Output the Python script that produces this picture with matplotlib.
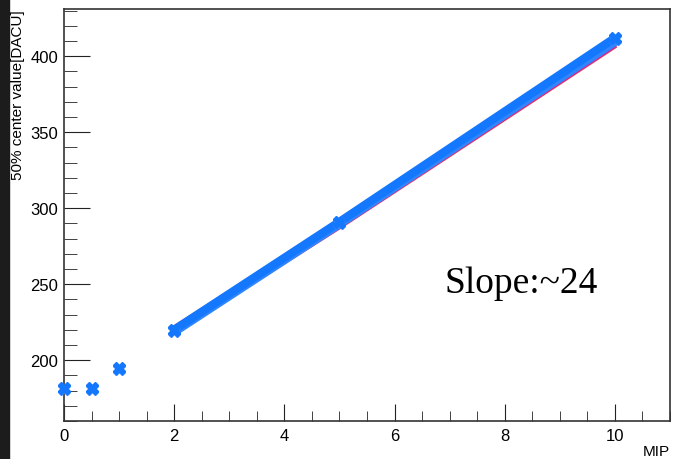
import matplotlib.pyplot as plt
from matplotlib.patches import Rectangle
from matplotlib.ticker import MultipleLocator

# measured points (one marker set, several overlapping channels)
mip = [0, 0.5, 1, 2, 5, 10]
center_blue = [182, 182, 195, 220, 291, 412]
center_cyan = [181, 181, 194, 219, 290, 411]

# linear fits drawn from 2 MIP up
fit_x = [2, 5, 10]
fit_red = [220, 289, 408]
fit_purple = [219, 290, 409]
fit_blue = [220, 291, 412]
fit_lightblue = [219, 290, 410]

fig = plt.figure(figsize=(6.73, 4.6), dpi=100)
fig.patch.set_facecolor("white")
fig.add_artist(Rectangle((0, 0), 9 / 673, 1, transform=fig.transFigure,
                         color="#1c1c1c", zorder=0))

ax = fig.add_axes([64 / 673, 38 / 460, 606 / 673, 412 / 460])

ax.plot(fit_x, fit_red, color="#e0306a", lw=6, solid_capstyle="butt", zorder=2)
ax.plot(fit_x, fit_purple, color="#9a3cd8", lw=6, solid_capstyle="butt", zorder=3)
ax.plot(fit_x, fit_lightblue, color="#2f86ff", lw=7, solid_capstyle="butt", zorder=4)
ax.plot(fit_x, fit_blue, color="#1478ff", lw=6, solid_capstyle="butt", zorder=5)

ax.plot(mip, center_cyan, ls="none", marker="X", ms=9, color="#2f86ff",
        mec="#2f86ff", zorder=6, clip_on=False)
ax.plot(mip, center_blue, ls="none", marker="X", ms=8, color="#1478ff",
        mec="#1478ff", zorder=7, clip_on=False)

ax.text(6.9, 251, "Slope:~24", family="Liberation Serif", fontsize=27,
        va="center", ha="left")

ax.set_xlim(0, 11)
ax.set_ylim(160, 431)
ax.xaxis.set_major_locator(MultipleLocator(2))
ax.xaxis.set_minor_locator(MultipleLocator(0.5))
ax.yaxis.set_major_locator(MultipleLocator(50))
ax.yaxis.set_minor_locator(MultipleLocator(10))

ax.tick_params(which="both", direction="in", top=False, right=False,
               labelsize=12, color="#222222")
ax.tick_params(axis="y", which="major", length=19, pad=4)
ax.tick_params(axis="y", which="minor", length=9)
ax.tick_params(axis="x", which="major", length=12, pad=5)
ax.tick_params(axis="x", which="minor", length=7)
for lab in ax.get_xticklabels() + ax.get_yticklabels():
    lab.set_family("Liberation Sans")

for s in ax.spines.values():
    s.set_color("#333333")
    s.set_linewidth(1.2)

fig.text(18 / 673, 1 - 10 / 460, "50% center value[DACU]", rotation=90,
         ha="center", va="top", fontsize=11, family="Liberation Sans")
fig.text(670 / 673, 1 - 452 / 460, "MIP", ha="right", va="center",
         fontsize=11, family="Liberation Sans")

fig.savefig("out.png", dpi=100)
